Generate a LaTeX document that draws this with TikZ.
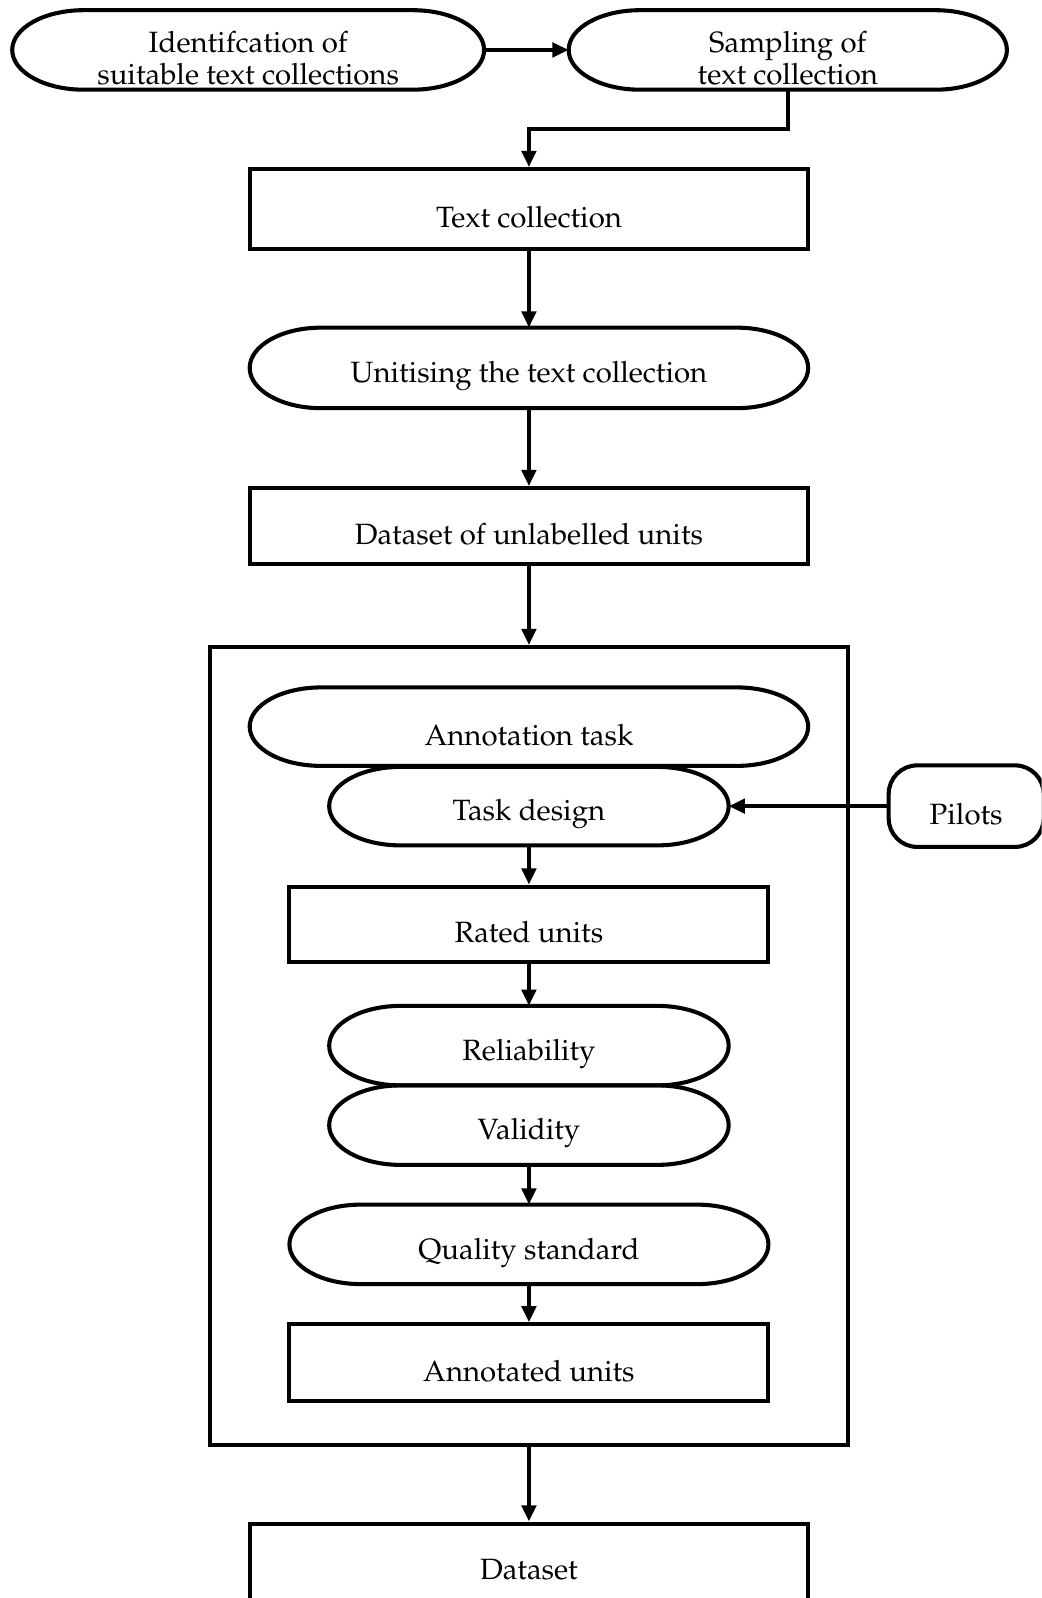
\documentclass[tikz,border=0pt]{standalone}
\usepackage[T1]{fontenc}
\usepackage{mathpazo}
\usetikzlibrary{arrows.meta,calc}
\tikzset{
  every picture/.style={line width=4pt},
  shp/.style={rectangle, inner sep=0pt, outer sep=0pt, draw=none},
  boxS/.style={rectangle, inner sep=0pt, draw, line width=4pt},
  lbl/.style={inner sep=0pt, font=\fontsize{28.8}{31}\selectfont, align=center, yshift=-8pt},
  arr/.style={line width=4pt, -{Triangle[length=16pt,width=14pt]}},
}
% stadium: name, x, y, w, h, text
\newcommand{\mystad}[6]{%
  \node[shp, minimum width=#4pt, minimum height=#5pt] (#1) at (#2pt,-#3pt) {};
  \draw[line width=4pt] ($(#1.north west)+(70pt,0pt)$) -- ($(#1.north east)+(-70pt,0pt)$)
     arc[start angle=90, end angle=-90, x radius=70pt, y radius=#5pt/2]
     -- ($(#1.south west)+(70pt,0pt)$)
     arc[start angle=270, end angle=90, x radius=70pt, y radius=#5pt/2] -- cycle;
  \node[lbl] (#1t) at (#1.center) {#6};
}
\begin{document}
\begin{tikzpicture}
\useasboundingbox (0pt,0pt) rectangle (1022pt,-1568pt);
\clip (0pt,0pt) rectangle (1022pt,-1568pt);

\mystad{ident}{243.5}{49}{463}{78}{Identifcation of\\suitable text collections}
\mystad{samp}{773}{49}{430}{78}{Sampling of\\text collection}

\node[boxS, minimum width=548pt, minimum height=78pt] (tc) at (519pt,-205pt) {};
\node[lbl] (tct) at (tc.center) {Text collection};

\mystad{unit}{519}{361}{548}{79}{Unitising the text collection}

\node[boxS, minimum width=548pt, minimum height=74pt] (du) at (519pt,-516pt) {};
\node[lbl] (dut) at (du.center) {Dataset of unlabelled units};

\node[boxS, minimum width=626pt, minimum height=783pt] (big) at (519pt,-1026.5pt) {};

\mystad{anno}{519}{713}{548}{77}{Annotation task}
\mystad{task}{519}{791}{392}{77}{Task design}

\node[draw, rounded corners=28pt, minimum width=152pt, minimum height=80pt, inner sep=0pt] (pil) at (948pt,-791pt) {};
\node[lbl] (pilt) at (pil.center) {Pilots};

\node[boxS, minimum width=470pt, minimum height=74pt] (ru) at (519pt,-907pt) {};
\node[lbl] (rut) at (ru.center) {Rated units};

\mystad{rel}{519}{1026}{392}{78}{Reliability}
\mystad{val}{519}{1104}{392}{78}{Validity}
\mystad{qs}{519}{1221}{470}{78}{Quality standard}

\node[boxS, minimum width=470pt, minimum height=75pt] (au) at (519pt,-1337pt) {};
\node[lbl] (aut) at (au.center) {Annotated units};

\node[boxS, minimum width=548pt, minimum height=160pt] (ds) at (519pt,-1575pt) {};
\node[lbl] (dst) at ($(ds.north)+(0pt,-39pt)$) {Dataset};

\draw[arr] (ident.east) -- (samp.west);
\draw[arr] (samp.south) -- ++(0pt,-39pt) -| (tc.north);
\draw[arr] (tc.south) -- (unit.north);
\draw[arr] (unit.south) -- (du.north);
\draw[arr] (du.south) -- (big.north);
\draw[arr] (pil.west) -- (task.east);
\draw[arr] (task.south) -- (ru.north);
\draw[arr] (ru.south) -- (rel.north);
\draw[arr] (val.south) -- (qs.north);
\draw[arr] (qs.south) -- (au.north);
\draw[arr] (big.south) -- (ds.north);
\end{tikzpicture}
\end{document}
